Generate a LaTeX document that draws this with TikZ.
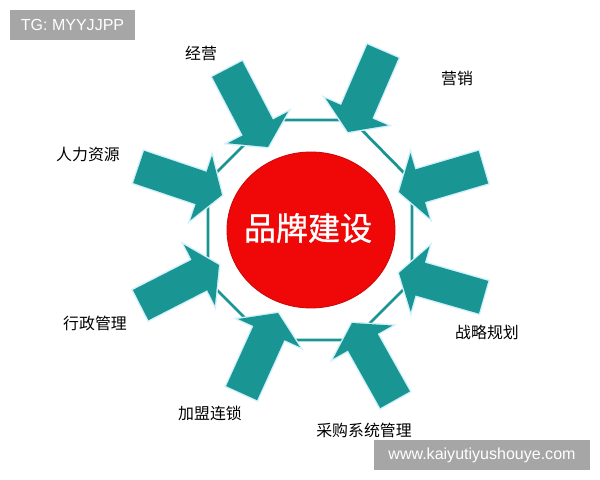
\documentclass[tikz,border=0pt]{standalone}
\usepackage{fontspec}
\setmainfont{Liberation Sans}
\newfontfamily\cjk{Noto Sans CJK SC}
\newfontfamily\cjkgras[FakeBold=1]{Noto Sans CJK SC}
\definecolor{flechecol}{RGB}{25,150,148}
\definecolor{rouge}{RGB}{240,8,8}
\definecolor{gris}{RGB}{166,166,166}
\begin{document}
\begin{tikzpicture}[x=0.025cm,y=0.025cm,
        lab/.style={font=\cjk\fontsize{11.3}{13}\selectfont, text=black, inner sep=0pt},
        marque/.style={font=\fontsize{11.4}{13}\selectfont, text=white, inner sep=0pt},
        fleche/.pic={\fill [color=flechecol, preaction={draw=cyan!18, line width=2pt}]
                (0,0)--(-22,34)--(-22,17)--(-88,17)--(-88,-17)--(-22,-17)--(-22,-34)--cycle;}]
                \useasboundingbox (0,0) rectangle (600,480);
                \fill [color=white] (0,0) rectangle (600,480);
                % octogone
                \draw [color=flechecol, line width=2pt] (269,360)--(352,360)--(412,299)--(412,199)--(353,140)--(267,140)--(208,199)--(208,299)--cycle;
                % cercle central
                \filldraw [fill=rouge, draw=rouge!85!black, line width=0.6pt] (311,250) ellipse [x radius=84, y radius=78];
                \node (centre) at (308,252) {\cjkgras\fontsize{22.8}{26}\selectfont\color{white}品牌建设};
                % fleches
                \path (268,333) pic[rotate=-62.4] {fleche};
                \path (348,348) pic[rotate=-113.4] {fleche};
                \path (222,285) pic[rotate=-18.6] {fleche};
                \path (399,288) pic[rotate=-163.6] {fleche};
                \path (219,215) pic[rotate=27.1] {fleche};
                \path (399,207) pic[rotate=164] {fleche};
                \path (278,167) pic[rotate=65.6] {fleche};
                \path (352,157) pic[rotate=119.3] {fleche};
                % textes
                \node [lab] (jingying) at (201,427) {经营};
                \node [lab] (yingxiao) at (457,402) {营销};
                \node [lab] (renli) at (88,325) {人力资源};
                \node [lab] (xingzheng) at (95,157) {行政管理};
                \node [lab] (jiameng) at (210,67) {加盟连锁};
                \node [lab] (zhanlue) at (487,148) {战略规划};
                \node [lab] (caigou) at (364,50) {采购系统管理};
                % filigranes
                \fill [color=gris] (10,440) rectangle (135,470);
                \node [marque] (tg) at (72.5,455) {TG: MYYJJPP};
                \fill [color=gris] (374,10) rectangle (590,40);
                \node [marque] (site) at (482,25) {www.kaiyutiyushouye.com};
\end{tikzpicture}
\end{document}
